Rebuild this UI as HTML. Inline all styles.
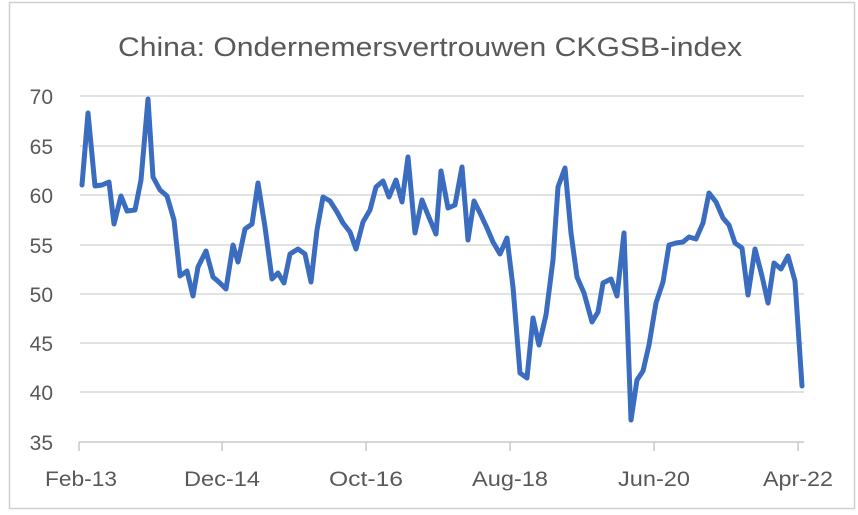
<!DOCTYPE html>
<html><head><style>body{margin:0;background:#fff}svg{display:block}</style></head><body>
<svg width="858" height="515" xmlns="http://www.w3.org/2000/svg" font-family="Liberation Sans, sans-serif">
<rect x="9.5" y="2.5" width="845" height="506" fill="#fff" stroke="#d0d0d0" stroke-width="1.5"/>
<text x="430" y="56" font-size="27" fill="#595959" text-anchor="middle" textLength="624" lengthAdjust="spacingAndGlyphs">China: Ondernemersvertrouwen CKGSB-index</text>
<g stroke="#d9d9d9" stroke-width="1.5">
<line x1="80" x2="804" y1="96" y2="96"/><line x1="80" x2="804" y1="146" y2="146"/><line x1="80" x2="804" y1="195" y2="195"/><line x1="80" x2="804" y1="245" y2="245"/><line x1="80" x2="804" y1="294" y2="294"/><line x1="80" x2="804" y1="343" y2="343"/><line x1="80" x2="804" y1="392" y2="392"/>
</g>
<g stroke="#c8c8c8" stroke-width="1.5">
<line x1="79" x2="804" y1="442" y2="442"/>
<line x1="79" x2="79" y1="442" y2="451"/><line x1="222" x2="222" y1="442" y2="451"/><line x1="366" x2="366" y1="442" y2="451"/><line x1="510" x2="510" y1="442" y2="451"/><line x1="654" x2="654" y1="442" y2="451"/><line x1="798" x2="798" y1="442" y2="451"/>
</g>
<g font-size="21" fill="#595959" text-anchor="end">
<text x="53" y="104">70</text><text x="53" y="154">65</text><text x="53" y="203">60</text><text x="53" y="253">55</text><text x="53" y="302">50</text><text x="53" y="351">45</text><text x="53" y="400">40</text><text x="53" y="450">35</text>
</g>
<g font-size="21" fill="#595959" text-anchor="middle">
<text x="81" y="486" textLength="72" lengthAdjust="spacingAndGlyphs">Feb-13</text><text x="222" y="486" textLength="76" lengthAdjust="spacingAndGlyphs">Dec-14</text><text x="366" y="486" textLength="74" lengthAdjust="spacingAndGlyphs">Oct-16</text><text x="510" y="486" textLength="76" lengthAdjust="spacingAndGlyphs">Aug-18</text><text x="654" y="486" textLength="72" lengthAdjust="spacingAndGlyphs">Jun-20</text><text x="798" y="486" textLength="70" lengthAdjust="spacingAndGlyphs">Apr-22</text>
</g>
<polyline fill="none" stroke="#3a6cc0" stroke-width="5" stroke-linejoin="round" stroke-linecap="round" points="82,185 88,113 95,186 102,185 109,182 114,224 121,196 127,211 135,210 141,180 148,99 153,177 160,190 167,196 174,220 180,276 187,271 193,296 198,267 206,251 213,277 220,283 226,289 233,245 238,262 245,229 252,224 258,183 265,227 272,279 278,273 284,283 290,254 298,249 305,254 311,282 317,230 323,197 330,201 337,212 343,223 350,232 356,249 363,222 370,210 376,187 383,181 389,197 396,180 402,202 408,157 415,233 422,200 428,215 436,234 441,171 448,208 455,205 462,167 468,240 474,201 480,213 487,228 493,242 500,254 507,238 513,287 520,373 527,378 533,318 539,345 546,315 553,260 558,187 565,168 571,233 577,277 584,293 592,322 598,312 603,283 611,279 617,296 624,233 631,420 637,380 643,371 649,345 656,303 663,282 669,245 676,243 683,242 689,237 696,239 703,223 709,193 716,202 723,218 729,225 735,243 742,248 748,295 755,249 762,276 768,303 774,263 781,269 788,256 795,281 802,386"/>
</svg>
</body></html>
